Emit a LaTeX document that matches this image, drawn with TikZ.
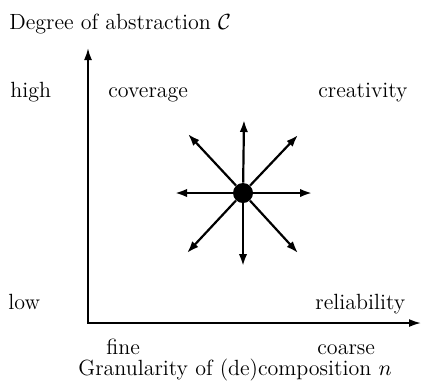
\documentclass[tikz,border=0pt]{standalone}
\usepackage{amsmath,amssymb}
\usepackage{xcolor}
\usepackage{tikz}
\usetikzlibrary{positioning,arrows.meta}

\begin{document}
\begin{tikzpicture}[
  x=0.5pt, y=-0.5pt,
  lbl/.style={anchor=base west, inner sep=0pt, font=\fontsize{11}{13}\selectfont},
  axis/.style={line width=0.9pt, {Latex[length=6pt,width=4pt]}-{Latex[length=6pt,width=4pt]}},
  ar/.style={line width=1.1pt, -{Latex[length=6pt,width=4.2pt]}},
  hub/.style={circle, fill=black, minimum size=10pt, inner sep=0pt}]

  \useasboundingbox (0,0) rectangle (431,388);

  % axes
  \coordinate (o) at (88,323);
  \coordinate (ytip) at (88,48);
  \coordinate (xtip) at (421,323);
  \draw[axis] (ytip) -- (o) -- (xtip);

  \node[lbl] (ytitle) at (9,29) {Degree of abstraction $\mathcal{C}$};
  \node[lbl] (high) at (10,97) {high};
  \node[lbl] (low) at (8,309) {low};
  \node[lbl] (coverage) at (108,97) {coverage};
  \node[lbl] (creativity) at (318,97) {creativity};
  \node[lbl] (reliability) at (315,309) {reliability};
  \node[lbl] (fine) at (106,354) {fine};
  \node[lbl] (coarse) at (317,354) {coarse};
  \node[lbl] (xtitle) at (78,375) {Granularity of (de)composition $n$};

  % the star of directions
  \node[hub] (c) at (243,193) {};
  \coordinate (n) at (244,120);
  \coordinate (s) at (243,266);
  \coordinate (w) at (175,193);
  \coordinate (e) at (312,193);
  \coordinate (nw) at (188,134);
  \coordinate (ne) at (298,135);
  \coordinate (sw) at (187,253);
  \coordinate (se) at (298,253);

  \draw[ar] (c) -- (n);
  \draw[ar] (c) -- (s);
  \draw[ar] (c) -- (w);
  \draw[ar] (c) -- (e);
  \draw[ar] (c) -- (nw);
  \draw[ar] (c) -- (ne);
  \draw[ar] (c) -- (sw);
  \draw[ar] (c) -- (se);
\end{tikzpicture}
\end{document}
